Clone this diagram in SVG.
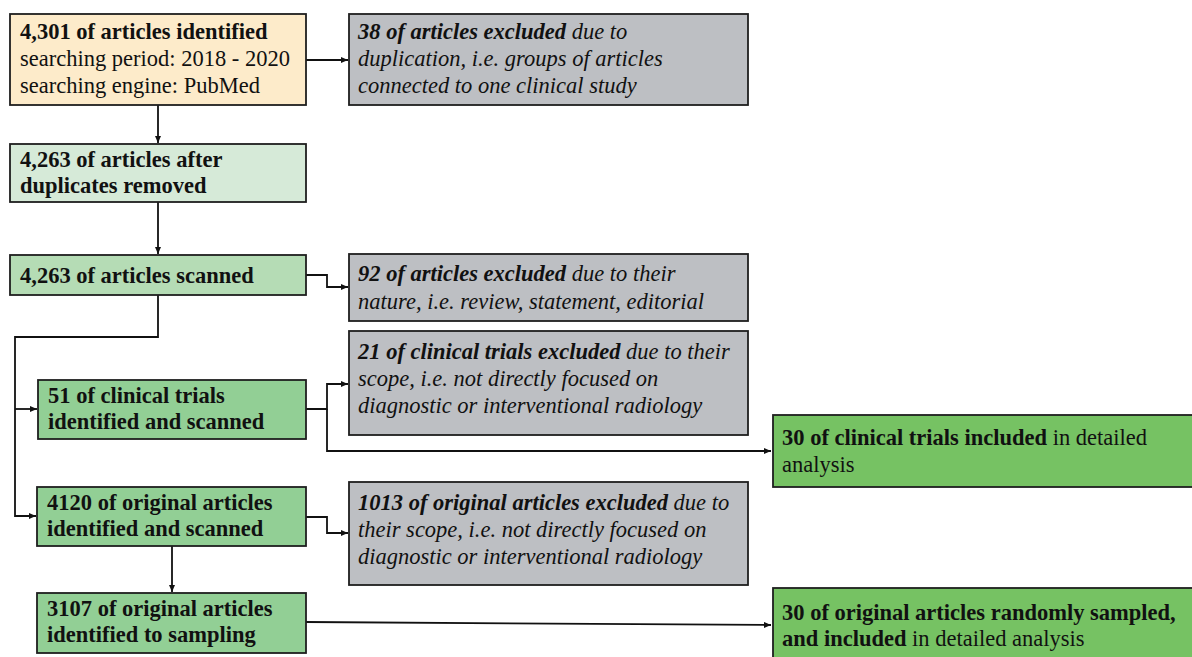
<svg xmlns="http://www.w3.org/2000/svg" width="1192" height="657" viewBox="0 0 1192 657">
<defs>
<marker id="arr" markerUnits="userSpaceOnUse" markerWidth="8" markerHeight="8" refX="7" refY="3" orient="auto">
<path d="M0,0 L7,3 L0,6 z" fill="#111"/>
</marker>
</defs>
<rect width="1192" height="657" fill="#ffffff"/>
<g id="connectors" fill="none" stroke="#111" stroke-width="1.8">
<path d="M306,60 H348" marker-end="url(#arr)"/>
<path d="M158,105 V143" marker-end="url(#arr)"/>
<path d="M158,202 V254" marker-end="url(#arr)"/>
<path d="M306,275 H327 V287 H348" marker-end="url(#arr)"/>
<path d="M158,295 V337 H15 V516 H36" marker-end="url(#arr)"/>
<path d="M15,409 H37" marker-end="url(#arr)"/>
<path d="M306,409 H327 V384 H348" marker-end="url(#arr)"/>
<path d="M327,409 V451 H771" marker-end="url(#arr)"/>
<path d="M306,517 H327 V533 H348" marker-end="url(#arr)"/>
<path d="M172,546 V592" marker-end="url(#arr)"/>
<path d="M306,622 L771,625" marker-end="url(#arr)"/>
</g>
<g stroke="#1e1e1e" stroke-width="1.8">
<rect id="n1-box" fill="#fdebca" x="10" y="14" width="296" height="91"/>
<rect id="x1-box" fill="#bdbfc3" x="349" y="14" width="399" height="91"/>
<rect id="n2-box" fill="#d6ead8" x="10" y="144" width="296" height="58"/>
<rect id="n3-box" fill="#b5dcb5" x="10" y="255" width="296" height="40"/>
<rect id="x2-box" fill="#bdbfc3" x="349" y="254" width="399" height="67"/>
<rect id="n4-box" fill="#92cf95" x="38" y="380" width="268" height="59"/>
<rect id="x3-box" fill="#bdbfc3" x="349" y="331" width="399" height="104"/>
<rect id="r1-box" fill="#76c263" x="773" y="415" width="430" height="72"/>
<rect id="n5-box" fill="#92cf95" x="37" y="487" width="269" height="59"/>
<rect id="x4-box" fill="#bdbfc3" x="349" y="482" width="399" height="103"/>
<rect id="n6-box" fill="#92cf95" x="37" y="593" width="269" height="60"/>
<rect id="r2-box" fill="#76c263" x="773" y="588" width="430" height="80"/>
</g>
<g id="n1">
<text x="20" y="39" font-family="Times New Roman, Liberation Serif, Tinos, serif" font-size="22.5" font-weight="bold" fill="#111">4,301 of articles identified</text>
<text x="20" y="66" font-family="Times New Roman, Liberation Serif, Tinos, serif" font-size="22.5" fill="#111">searching period: 2018 - 2020</text>
<text x="20" y="93" font-family="Times New Roman, Liberation Serif, Tinos, serif" font-size="22.5" fill="#111">searching engine: PubMed</text>
</g>
<g id="x1">
<text x="358" y="39" font-family="Times New Roman, Liberation Serif, Tinos, serif" font-size="22.5" font-style="italic" fill="#111"><tspan font-weight="bold">38 of articles excluded</tspan> due to</text>
<text x="358" y="66" font-family="Times New Roman, Liberation Serif, Tinos, serif" font-size="22.5" font-style="italic" fill="#111">duplication, i.e. groups of articles</text>
<text x="358" y="93" font-family="Times New Roman, Liberation Serif, Tinos, serif" font-size="22.5" font-style="italic" fill="#111">connected to one clinical study</text>
</g>
<g id="n2">
<text x="20" y="167" font-family="Times New Roman, Liberation Serif, Tinos, serif" font-size="22.5" font-weight="bold" fill="#111">4,263 of articles after</text>
<text x="20" y="193" font-family="Times New Roman, Liberation Serif, Tinos, serif" font-size="22.5" font-weight="bold" fill="#111">duplicates removed</text>
</g>
<g id="n3">
<text x="20" y="283" font-family="Times New Roman, Liberation Serif, Tinos, serif" font-size="22.5" font-weight="bold" fill="#111">4,263 of articles scanned</text>
</g>
<g id="x2">
<text x="358" y="281" font-family="Times New Roman, Liberation Serif, Tinos, serif" font-size="22.5" font-style="italic" fill="#111"><tspan font-weight="bold">92 of articles excluded</tspan> due to their</text>
<text x="358" y="309" font-family="Times New Roman, Liberation Serif, Tinos, serif" font-size="22.5" font-style="italic" fill="#111">nature, i.e. review, statement, editorial</text>
</g>
<g id="n4">
<text x="48" y="403" font-family="Times New Roman, Liberation Serif, Tinos, serif" font-size="22.5" font-weight="bold" fill="#111">51 of clinical trials</text>
<text x="48" y="429" font-family="Times New Roman, Liberation Serif, Tinos, serif" font-size="22.5" font-weight="bold" fill="#111">identified and scanned</text>
</g>
<g id="x3">
<text x="358" y="359" font-family="Times New Roman, Liberation Serif, Tinos, serif" font-size="22.5" font-style="italic" fill="#111"><tspan font-weight="bold">21 of clinical trials excluded</tspan> due to their</text>
<text x="358" y="386" font-family="Times New Roman, Liberation Serif, Tinos, serif" font-size="22.5" font-style="italic" fill="#111">scope, i.e. not directly focused on</text>
<text x="358" y="413" font-family="Times New Roman, Liberation Serif, Tinos, serif" font-size="22.5" font-style="italic" fill="#111">diagnostic or interventional radiology</text>
</g>
<g id="r1">
<text x="782" y="445" font-family="Times New Roman, Liberation Serif, Tinos, serif" font-size="22.5" fill="#111"><tspan font-weight="bold">30 of clinical trials included</tspan> in detailed</text>
<text x="782" y="472" font-family="Times New Roman, Liberation Serif, Tinos, serif" font-size="22.5" fill="#111">analysis</text>
</g>
<g id="n5">
<text x="47" y="510" font-family="Times New Roman, Liberation Serif, Tinos, serif" font-size="22.5" font-weight="bold" fill="#111">4120 of original articles</text>
<text x="47" y="536" font-family="Times New Roman, Liberation Serif, Tinos, serif" font-size="22.5" font-weight="bold" fill="#111">identified and scanned</text>
</g>
<g id="x4">
<text x="358" y="510" font-family="Times New Roman, Liberation Serif, Tinos, serif" font-size="22.5" font-style="italic" fill="#111"><tspan font-weight="bold">1013 of original articles excluded</tspan> due to</text>
<text x="358" y="537" font-family="Times New Roman, Liberation Serif, Tinos, serif" font-size="22.5" font-style="italic" fill="#111">their scope, i.e. not directly focused on</text>
<text x="358" y="564" font-family="Times New Roman, Liberation Serif, Tinos, serif" font-size="22.5" font-style="italic" fill="#111">diagnostic or interventional radiology</text>
</g>
<g id="n6">
<text x="47" y="616" font-family="Times New Roman, Liberation Serif, Tinos, serif" font-size="22.5" font-weight="bold" fill="#111">3107 of original articles</text>
<text x="47" y="642" font-family="Times New Roman, Liberation Serif, Tinos, serif" font-size="22.5" font-weight="bold" fill="#111">identified to sampling</text>
</g>
<g id="r2">
<text x="782" y="620" font-family="Times New Roman, Liberation Serif, Tinos, serif" font-size="22.5" font-weight="bold" fill="#111">30 of original articles randomly sampled,</text>
<text x="782" y="646" font-family="Times New Roman, Liberation Serif, Tinos, serif" font-size="22.5" fill="#111"><tspan font-weight="bold">and included</tspan> in detailed analysis</text>
</g>
</svg>
